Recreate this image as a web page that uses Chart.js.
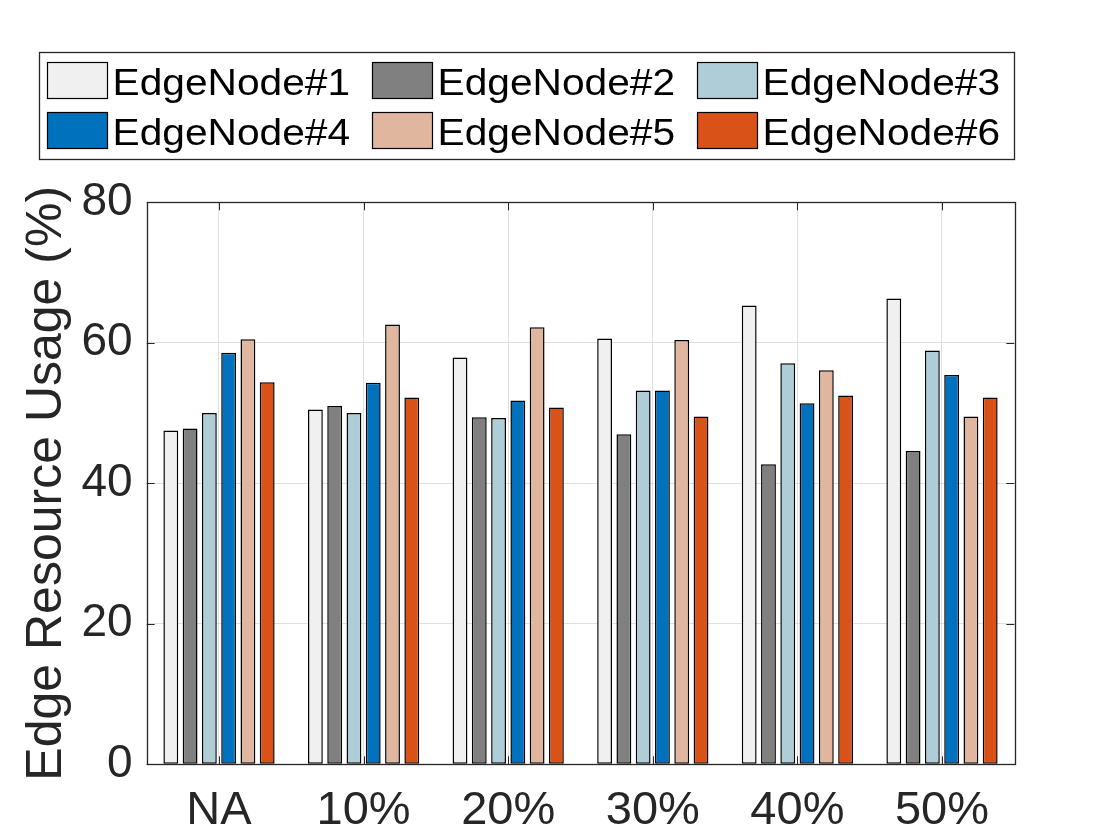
<!DOCTYPE html>
<html>
<head>
<meta charset="utf-8">
<script src="https://cdn.jsdelivr.net/npm/chart.js@4.4.1/dist/chart.umd.min.js"></script>
<style>
  html, body { margin: 0; padding: 0; background: #fff; }
  #wrap { width: 1120px; height: 840px; }
</style>
</head>
<body>
<div id="wrap"><canvas id="chart" width="1120" height="840"></canvas></div>
<script>
// data
const categories = ["NA", "10%", "20%", "30%", "40%", "50%"];
const seriesNames = ["EdgeNode#1", "EdgeNode#2", "EdgeNode#3", "EdgeNode#4", "EdgeNode#5", "EdgeNode#6"];
const node1 = [47.5, 50.5, 57.9, 60.6, 65.3, 66.3];
const node2 = [47.8, 51.0, 49.4, 47.0, 42.7, 44.6];
const node3 = [50.0, 50.0, 49.3, 53.2, 57.1, 58.9];
const node4 = [58.6, 54.3, 51.8, 53.2, 51.4, 55.4];
const node5 = [60.5, 62.6, 62.2, 60.4, 56.1, 49.5];
const node6 = [54.4, 52.2, 50.8, 49.5, 52.5, 52.2];
const yTicks = [0, 20, 40, 60, 80];

const seriesValues = [node1, node2, node3, node4, node5, node6];
const colors = ["#f0f0f0", "#808080", "#afcdd6", "#0072bd", "#e1b69f", "#d95319"];
const axisColor = "#262626";
const fontFamily = '"Liberation Sans", Arial, Helvetica, sans-serif';

// MATLAB-style box with inward ticks
const frame = {
  id: "frame",
  afterDatasetsDraw(chart) {
    const { ctx, chartArea: a, scales } = chart;
    const len = 8;
    ctx.save();
    ctx.strokeStyle = axisColor;
    ctx.lineWidth = 1;
    ctx.beginPath();
    scales.x.ticks.forEach((t, i) => {
      const px = Math.round(scales.x.getPixelForTick(i)) + 0.5;
      ctx.moveTo(px, a.bottom); ctx.lineTo(px, a.bottom - len);
      ctx.moveTo(px, a.top); ctx.lineTo(px, a.top + len);
    });
    yTicks.forEach(v => {
      const py = Math.round(scales.y.getPixelForValue(v)) + 0.5;
      ctx.moveTo(a.left, py); ctx.lineTo(a.left + len, py);
      ctx.moveTo(a.right, py); ctx.lineTo(a.right - len, py);
    });
    ctx.stroke();
    ctx.lineWidth = 1.3;
    ctx.strokeRect(Math.round(a.left) + 0.5, Math.round(a.top) + 0.5,
                   Math.round(a.right - a.left), Math.round(a.bottom - a.top));
    ctx.restore();
  }
};

// two-row boxed legend like the original
const boxLegend = {
  id: "boxLegend",
  afterDraw(chart, args, o) {
    const { ctx, chartArea } = chart;
    ctx.save();
    ctx.strokeStyle = axisColor;
    ctx.lineWidth = 1.3;
    ctx.fillStyle = "#fff";
    const right = Math.round(chartArea.right) + 0.5;
    ctx.fillRect(o.left, o.top, right - o.left, o.bottom - o.top);
    ctx.strokeRect(o.left, o.top, right - o.left, o.bottom - o.top);
    ctx.font = o.font;
    ctx.textBaseline = "alphabetic";
    chart.data.datasets.forEach((ds, i) => {
      const col = i % o.cols, row = Math.floor(i / o.cols);
      const x = o.colX[col], y = o.rowY[row];
      ctx.fillStyle = ds.backgroundColor;
      ctx.fillRect(x, y, o.boxW, o.boxH);
      ctx.strokeStyle = "#000";
      ctx.lineWidth = 1.2;
      ctx.strokeRect(x, y, o.boxW, o.boxH);
      ctx.save();
      ctx.translate(x + o.boxW + o.gap, y + o.baseline);
      ctx.scale(o.stretch, 1);
      ctx.fillStyle = "#000";
      ctx.fillText(ds.label, 0, 0);
      ctx.restore();
    });
    ctx.restore();
  }
};

const datasets = seriesNames.map((name, i) => ({
  label: name,
  data: seriesValues[i],
  backgroundColor: colors[i],
  borderColor: "#000",
  borderWidth: 1.5,
  borderSkipped: false,
  barPercentage: 0.77,
  categoryPercentage: 0.8
}));

const plotLeft = 146.7, plotBottom = 764.3;

new Chart(document.getElementById("chart"), {
  type: "bar",
  data: { labels: categories, datasets },
  plugins: [frame, boxLegend],
  options: {
    responsive: false,
    animation: false,
    devicePixelRatio: 1,
    layout: { padding: { top: 202.3, left: 0, right: 105.7, bottom: 0 } },
    plugins: {
      legend: { display: false },
      tooltip: { enabled: false },
      boxLegend: {
        left: 39.5, top: 52.5, bottom: 159.5, cols: 3,
        colX: [47.5, 372.5, 697.5], rowY: [62.5, 112.5],
        boxW: 60, boxH: 36, gap: 5, baseline: 32.5, stretch: 1.1,
        font: "37px " + fontFamily
      }
    },
    scales: {
      x: {
        offset: true,
        grid: { offset: false, color: "#dfdfdf", lineWidth: 1, drawTicks: false },
        border: { display: false },
        ticks: { color: axisColor, font: { family: fontFamily, size: 47 }, padding: 19 },
        afterFit(scale) { scale.height = 840 - plotBottom; }
      },
      y: {
        min: 0,
        max: 80,
        grid: { color: "#dfdfdf", lineWidth: 1, drawTicks: false },
        border: { display: false },
        afterBuildTicks(scale) { scale.ticks = yTicks.map(v => ({ value: v })); },
        ticks: { color: axisColor, font: { family: fontFamily, size: 46 }, padding: 14 },
        title: {
          display: true,
          text: "Edge Resource Usage (%)",
          color: axisColor,
          font: { family: fontFamily, size: 50 },
          padding: { top: 17, bottom: 0 }
        },
        afterFit(scale) { scale.width = plotLeft; }
      }
    }
  }
});
</script>
</body>
</html>
